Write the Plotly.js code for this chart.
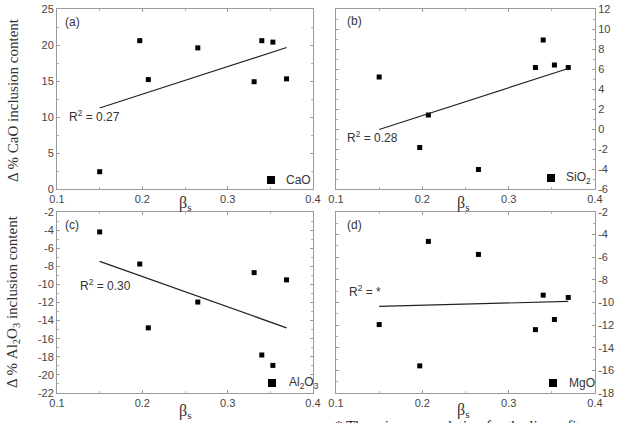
<!DOCTYPE html>
<html>
<head>
<meta charset="utf-8">
<script src="https://cdn.plot.ly/plotly-3.0.1.min.js"></script>
<style>
  html, body { margin: 0; padding: 0; background: #fff; }
  #chart { width: 637px; height: 423px; }
</style>
</head>
<body>
<div id="chart"></div>
<script>
// Slag basicity βs for each heat (shared by all four panels)
const betaS = [0.150, 0.197, 0.207, 0.265, 0.331, 0.340, 0.353, 0.369];

// Change in inclusion composition (wt %)
const dCaO   = [2.4, 20.6, 15.2, 19.6, 14.9, 20.6, 20.4, 15.3];
const dSiO2  = [5.2, -1.85, 1.4, -4.05, 6.15, 8.9, 6.4, 6.15];
const dAl2O3 = [-4.2, -7.75, -14.8, -11.95, -8.7, -17.8, -18.95, -9.5];
const dMgO   = [-11.95, -15.6, -4.6, -5.75, -12.4, -9.35, -11.5, -9.55];

// Linear fit end points (βs from 0.15 to 0.369)
const fitX      = [0.150, 0.369];
const fitCaO    = [11.25, 19.65];
const fitSiO2   = [-0.05, 6.05];
const fitAl2O3  = [-7.45, -14.8];
const fitMgO    = [-10.35, -9.9];

// Tick values / labels (plain hyphen minus signs)
const xTicks  = [0.1, 0.2, 0.3, 0.4];
const xLabels = ['0.1', '0.2', '0.3', '0.4'];
const yTicksCaO   = [0, 5, 10, 15, 20, 25];
const yTicksSiO2  = [-6, -4, -2, 0, 2, 4, 6, 8, 10, 12];
const yTicksAl2O3 = [-22, -20, -18, -16, -14, -12, -10, -8, -6, -4, -2];
const yTicksMgO   = [-18, -16, -14, -12, -10, -8, -6, -4, -2];

const r2Labels = ['R<sup>2</sup> = 0.27', 'R<sup>2</sup> = 0.28', 'R<sup>2</sup> = 0.30', 'R<sup>2</sup> = *'];
const legendNames = ['CaO', 'SiO<sub>2</sub>', 'Al<sub>2</sub>O<sub>3</sub>', 'MgO'];
const panelTags = ['(a)', '(b)', '(c)', '(d)'];

const W = 637, H = 423;
const px = x => x / W;          // pixel -> paper x
const py = y => (H - y) / H;    // pixel -> paper y

const sans = 'Liberation Sans, Arial, sans-serif';
const serif = 'Liberation Serif, Times New Roman, serif';

const series = [dCaO, dSiO2, dAl2O3, dMgO];
const fits = [fitCaO, fitSiO2, fitAl2O3, fitMgO];
const axN = ['', '2', '3', '4'];

const traces = [];
series.forEach((ys, i) => {
  traces.push({
    x: betaS, y: ys, type: 'scatter', mode: 'markers',
    xaxis: 'x' + axN[i], yaxis: 'y' + axN[i],
    name: legendNames[i],
    marker: { symbol: 'square', size: 5, color: '#000' },
    showlegend: false
  });
  traces.push({
    x: fitX, y: fits[i], type: 'scatter', mode: 'lines',
    xaxis: 'x' + axN[i], yaxis: 'y' + axN[i],
    line: { color: '#222', width: 1.2 },
    showlegend: false, hoverinfo: 'skip'
  });
});

const hy = v => String(v).replace('-', '-');

function xAxis(domain, anchor) {
  return {
    domain, anchor, range: [0.1, 0.4],
    tickmode: 'array', tickvals: xTicks, ticktext: xLabels,
    showline: true, mirror: 'ticks', linecolor: '#9a9a9a', linewidth: 1,
    ticks: 'inside', ticklen: 3, tickcolor: '#9a9a9a',
    minor: { ticks: 'inside', ticklen: 2, dtick: 0.05, tick0: 0.1, tickcolor: '#b0b0b0' },
    showgrid: false, zeroline: false,
    tickfont: { family: sans, size: 11, color: '#444' }
  };
}
function yAxis(domain, anchor, range, vals, side) {
  const step = vals[1] - vals[0];
  return {
    domain, anchor, range, side,
    tickmode: 'array', tickvals: vals, ticktext: vals.map(hy),
    showline: true, mirror: 'ticks', linecolor: '#9a9a9a', linewidth: 1,
    ticks: 'inside', ticklen: 3, tickcolor: '#9a9a9a',
    minor: { ticks: 'inside', ticklen: 2, dtick: step / 2, tick0: vals[0], tickcolor: '#b0b0b0' },
    showgrid: false, zeroline: false,
    tickfont: { family: sans, size: 11, color: '#444' }
  };
}

const xL = [px(57), px(313)], xR = [px(336), px(595)];
const yT = [py(189), py(9)], yB = [py(393), py(212)];

const annotations = [];
const shapes = [];
// panel tags
[[63, 22], [345, 21], [63, 225], [345, 225]].forEach((p, i) => {
  annotations.push({ xref: 'paper', yref: 'paper', x: px(p[0]), y: py(p[1]),
    xanchor: 'left', yanchor: 'middle', showarrow: false, text: panelTags[i],
    font: { family: sans, size: 12, color: '#333' } });
});
// R² labels
[[67, 116], [345, 137], [78, 285], [347, 291]].forEach((p, i) => {
  annotations.push({ xref: 'paper', yref: 'paper', x: px(p[0]), y: py(p[1]),
    xanchor: 'left', yanchor: 'middle', showarrow: false, text: r2Labels[i],
    font: { family: sans, size: 12, color: '#333' } });
});
// legend keys: square + name
[[271, 180, 284], [551, 178, 564], [272, 383, 287], [553, 383, 567]].forEach((p, i) => {
  shapes.push({ type: 'rect', xref: 'paper', yref: 'paper',
    x0: px(p[0] - 4), x1: px(p[0] + 4), y0: py(p[1] + 4), y1: py(p[1] - 4),
    fillcolor: '#000', line: { width: 0 } });
  annotations.push({ xref: 'paper', yref: 'paper', x: px(p[2]), y: py(p[1]),
    xanchor: 'left', yanchor: 'middle', showarrow: false, text: legendNames[i],
    font: { family: sans, size: 12, color: '#333' } });
});
// βs axis titles
[[185, 203], [463, 203], [185, 411], [463, 410]].forEach(p => {
  annotations.push({ xref: 'paper', yref: 'paper', x: px(p[0]), y: py(p[1]),
    xanchor: 'center', yanchor: 'middle', showarrow: false, text: 'β<sub>s</sub>',
    font: { family: serif, size: 16, color: '#333' } });
});
// y axis titles
annotations.push({ xref: 'paper', yref: 'paper', x: px(13), y: py(100), textangle: -90,
  xanchor: 'center', yanchor: 'middle', showarrow: false,
  text: 'Δ % CaO inclusion content', font: { family: serif, size: 15, color: '#333' } });
annotations.push({ xref: 'paper', yref: 'paper', x: px(13), y: py(302), textangle: -90,
  xanchor: 'center', yanchor: 'middle', showarrow: false,
  text: 'Δ % Al<sub>2</sub>O<sub>3</sub> inclusion content', font: { family: serif, size: 15, color: '#333' } });
// footnote
annotations.push({ xref: 'paper', yref: 'paper', x: px(333), y: py(416),
  xanchor: 'left', yanchor: 'top', showarrow: false,
  text: '* There is no correlation for the linear fit', font: { family: serif, size: 15, color: '#222' } });

const layout = {
  width: W, height: H,
  margin: { l: 0, r: 0, t: 0, b: 0 },
  paper_bgcolor: '#fff', plot_bgcolor: '#fff',
  xaxis: xAxis(xL, 'y'),
  yaxis: yAxis(yT, 'x', [0, 25], yTicksCaO, 'left'),
  xaxis2: xAxis(xR, 'y2'),
  yaxis2: yAxis(yT, 'x2', [-6, 12], yTicksSiO2, 'right'),
  xaxis3: xAxis(xL, 'y3'),
  yaxis3: yAxis(yB, 'x3', [-22, -2], yTicksAl2O3, 'left'),
  xaxis4: xAxis(xR, 'y4'),
  yaxis4: yAxis(yB, 'x4', [-18, -2], yTicksMgO, 'right'),
  annotations, shapes,
  showlegend: false
};

Plotly.newPlot('chart', traces, layout, { staticPlot: true, displayModeBar: false });
</script>
</body>
</html>
